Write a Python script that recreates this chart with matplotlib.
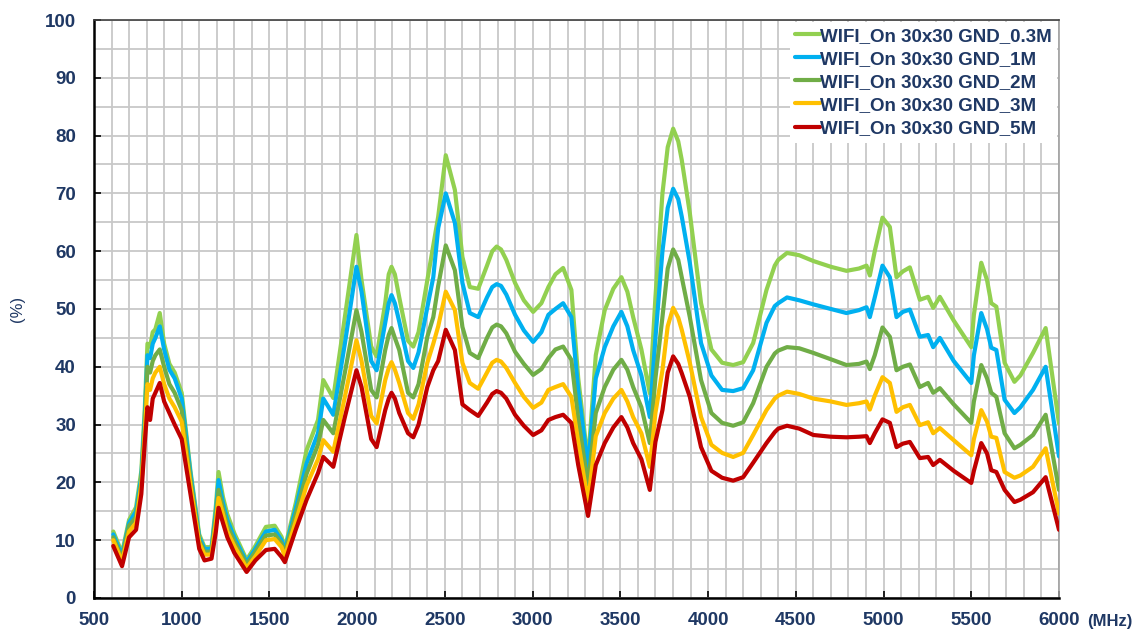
import matplotlib.pyplot as plt

# frequency points (MHz) and efficiency (%) for each ground distance
freq = [610, 660, 700, 740, 770, 790, 805, 820, 835, 850, 875, 900, 930, 960,
        1000, 1050, 1100, 1130, 1170, 1195, 1210, 1235, 1260, 1300, 1370, 1420,
        1480, 1530, 1569, 1588, 1650, 1712, 1777, 1807, 1864, 1930, 1996, 2025,
        2080, 2111, 2160, 2180, 2196, 2215, 2240, 2290, 2320, 2350, 2400, 2434,
        2462, 2505, 2557, 2600, 2642, 2690, 2740, 2770, 2795, 2820, 2850, 2900,
        2950, 3003, 3050, 3090, 3130, 3174, 3221, 3260, 3316, 3360, 3411, 3460,
        3506, 3540, 3573, 3620, 3668, 3700, 3740, 3770, 3801, 3830, 3850, 3896,
        3960, 4019, 4080, 4143, 4200, 4257, 4333, 4380, 4400, 4450,
        4520, 4600, 4700, 4789, 4860, 4903, 4922, 4950, 4994, 5036, 5074, 5110,
        5150, 5207, 5254, 5283, 5321, 5400, 5500, 5515, 5557, 5590, 5614, 5643,
        5690, 5746, 5780, 5852, 5924, 6000]

gnd_03m = [11.5, 7.8, 13.5, 15.7, 22, 33, 44, 43.5, 46, 46.5, 49.3, 44, 40.5, 39,
           35.5, 22, 11, 8.8, 8.8, 16, 21.8, 17.5, 14.5, 11.2, 6.6, 9.0,
           12.3, 12.5, 10.6, 8.6, 16.4, 25.6, 30.8, 37.7, 34.6, 48.6, 62.8, 55,
           43.5, 41.8, 51, 56, 57.3, 56, 52, 44.5, 43.5, 46, 55, 61,
           66, 76.6, 70.6, 59, 53.8, 53.5, 57.5, 60, 60.8, 60.3, 58.5, 54.5,
           51.5, 49.5, 51, 53.8, 56, 57.1, 53.3, 38, 23.5, 42, 49.8, 53.5,
           55.5, 53, 48.6, 43, 35.4, 52, 70, 78, 81.2, 79, 75.8, 66.6,
           51, 43, 40.7, 40.3, 40.8, 44.1, 53.3, 57.5, 58.5, 59.7,
           59.3, 58.3, 57.3, 56.6, 57, 57.5, 55.8, 60, 65.8, 64.2, 55.5, 56.5,
           57.2, 51.6, 52.1, 50.2, 52.1, 48, 43.4, 49, 58, 55, 51, 50.4,
           40.7, 37.4, 38.5, 42.4, 46.7, 30.2]

gnd_1m = [11.0, 7.3, 13.0, 15.0, 21, 31.5, 42, 41.5, 44, 45, 47, 43, 39.5, 38,
          34.5, 21.5, 10.5, 8.5, 8.5, 15, 20.4, 16.5, 13.5, 10.5, 6.2, 8.5,
          11.5, 11.8, 10, 8.2, 15.5, 23.3, 28.5, 34.5, 31.7, 44, 57.3, 53,
          41, 39.4, 47.6, 51, 52.4, 51, 47.8, 41, 39.8, 42.5, 50.3, 55.5,
          64, 70, 64.9, 54.5, 49.3, 48.6, 52, 53.8, 54.3, 54, 52.5, 49,
          46.3, 44.3, 46, 49, 50, 51, 48.6, 36, 22.7, 38, 43.4, 47,
          49.5, 47, 42.9, 38.5, 31.3, 45, 60, 67.5, 70.8, 69, 66, 58,
          44.1, 38.5, 36, 35.8, 36.3, 39.4, 47.6, 50.5, 51, 52,
          51.5, 50.8, 50, 49.3, 49.8, 50.3, 48.6, 52, 57.5, 55.5, 48.6, 49.5,
          49.9, 45.2, 45.5, 43.4, 45, 41, 37.2, 42, 49.3, 46.5, 43.3, 42.9,
          34.3, 32, 33, 36, 40, 24.5]

gnd_2m = [10.5, 6.8, 12.5, 14.0, 20, 30, 40, 39, 41, 42, 43, 40, 37, 35.5,
          32.5, 20.5, 10, 8, 8, 14, 18.7, 15.5, 12.5, 9.8, 5.8, 8.0,
          10.8, 11, 9.4, 7.8, 14.5, 21.5, 26.5, 30.8, 28.5, 39, 49.8, 46,
          36, 34.7, 42.9, 45.5, 46.7, 45, 42.9, 35.5, 34.7, 37, 45.2, 48.6,
          54, 61, 56.7, 46.9, 42.4, 41.5, 45, 46.8, 47.3, 47, 45.8, 42.6,
          40.5, 38.6, 39.6, 41.5, 43, 43.5, 41.2, 31, 19.6, 32, 36.5, 39.5,
          41.2, 39.5, 36.5, 33, 26.8, 38, 48.6, 57, 60.3, 58.5, 55.5, 48.6,
          37.7, 32, 30.3, 29.8, 30.4, 33.7, 40.0, 42.3, 42.8, 43.4,
          43.2, 42.4, 41.3, 40.3, 40.5, 40.9, 39.6, 42, 46.8, 45.2, 39.4, 40,
          40.4, 36.5, 37.2, 35.5, 36.3, 33.5, 30.3, 34, 40.3, 38, 35.5, 34.8,
          28.5, 25.9, 26.5, 28.2, 31.7, 18.7]

gnd_3m = [10.0, 6.3, 11.5, 13.0, 19.5, 28.5, 37, 36, 38, 39, 40, 37, 34.5, 33,
          30.5, 19.5, 9.5, 7.5, 7.5, 13, 17.3, 14.5, 11.5, 9.0, 5.2, 7.2,
          10, 10.2, 8.8, 7.2, 13.2, 19.5, 24, 27.3, 25.3, 34.8, 44.6, 41,
          31.5, 30.2, 37.7, 39.8, 40.8, 39.5, 37.2, 32, 31, 33.5, 40.7, 44,
          47, 53, 49.8, 40.7, 37.2, 36.2, 39, 40.7, 41.2, 40.9, 39.8, 37.2,
          34.8, 32.9, 33.8, 36, 36.5, 37, 34.8, 27, 16.6, 28, 32, 34.5,
          36, 34, 31.3, 28.5, 22.7, 32, 39.4, 47, 50.2, 48.5, 46.4, 40.7,
          31.3, 26.5, 25.1, 24.4, 25.1, 28.2, 32.5, 34.5, 35, 35.7,
          35.3, 34.5, 34, 33.4, 33.7, 34, 32.6, 35, 38.2, 37.2, 32.2, 33,
          33.4, 29.9, 30.4, 28.5, 29.4, 27.3, 24.7, 27.5, 32.5, 30.5, 27.9, 27.7,
          21.8, 20.8, 21.2, 22.7, 25.9, 14.6]

gnd_5m = [9.0, 5.5, 10.5, 11.8, 18, 27, 33, 30.8, 34.5, 35.5, 37.2, 34, 32, 30,
          27.5, 18, 8.5, 6.5, 6.8, 11.5, 15.6, 13, 10.5, 7.8, 4.5, 6.5,
          8.3, 8.5, 7.1, 6.2, 11.8, 17, 21.6, 24.4, 22.7, 31.3, 39.4, 36.5,
          27.5, 26.1, 32.5, 34.5, 35.5, 34.5, 32, 28.5, 27.8, 30, 36.5, 39.4,
          41, 46.4, 42.9, 33.5, 32.5, 31.5, 33.8, 35.3, 35.8, 35.5, 34.5, 31.7,
          29.8, 28.2, 29, 30.8, 31.3, 31.7, 30.3, 23, 14.2, 23, 26.8, 29.5,
          31.3, 29.5, 26.8, 24, 18.7, 27, 32.5, 39, 41.8, 40.5, 38.9, 34.8,
          26.1, 22, 20.8, 20.3, 20.9, 23.4, 26.8, 28.7, 29.3, 29.8,
          29.3, 28.2, 27.9, 27.8, 27.9, 28, 26.8, 28.5, 30.9, 30.3, 26.1, 26.7,
          27, 24.2, 24.4, 23, 23.9, 22, 19.9, 22, 26.8, 25, 22.1, 21.8,
          18.7, 16.6, 17, 18.3, 20.9, 11.8]

labels = ['WIFI_On 30x30 GND_0.3M', 'WIFI_On 30x30 GND_1M', 'WIFI_On 30x30 GND_2M',
          'WIFI_On 30x30 GND_3M', 'WIFI_On 30x30 GND_5M']
colors = ['#92D050', '#00B0F0', '#70AD47', '#FFC000', '#C00000']

navy = '#1F3864'
plt.rcParams['font.family'] = ['Liberation Sans Narrow', 'Liberation Sans', 'DejaVu Sans']
plt.rcParams['font.weight'] = 'bold'

fig = plt.figure(figsize=(11.32, 6.35), dpi=100)
ax = fig.add_axes([0.083, 0.0583, 0.8525, 0.9102])

for ys, lab, col in zip([gnd_03m, gnd_1m, gnd_2m, gnd_3m, gnd_5m], labels, colors):
    ax.plot(freq, ys, color=col, lw=3.0, label=lab,
            solid_joinstyle='round', solid_capstyle='round', zorder=3)

ax.set_xlim(500, 6000)
ax.set_ylim(0, 100)
ax.set_xticks(range(500, 6001, 500))
ax.set_yticks(range(0, 101, 10))
ax.set_xticks(range(500, 6001, 100), minor=True)
ax.set_yticks(range(0, 101, 5), minor=True)
ax.grid(which='both', color='#C8C8C8', lw=1.3, zorder=0)
ax.set_axisbelow(True)

ax.tick_params(axis='both', which='major', direction='in', length=5, width=1.2,
               color='black', labelcolor=navy, labelsize=13.5)
ax.tick_params(axis='both', which='minor', length=0)
ax.tick_params(axis='x', pad=10)
ax.tick_params(axis='y', pad=13)

ax.spines['left'].set_linewidth(1.8)
ax.spines['bottom'].set_linewidth(1.8)
ax.spines['top'].set_color('#404040')
ax.spines['top'].set_linewidth(1.2)
ax.spines['right'].set_color('#A0A0A0')
ax.spines['right'].set_linewidth(1.2)

ax.set_ylabel('(%)', color=navy, fontsize=12, labelpad=14)
ax.text(1.029, -0.04, '(MHz)', transform=ax.transAxes, color=navy, fontsize=12,
        ha='left', va='center')

leg = ax.legend(loc='upper right', bbox_to_anchor=(1.0, 1.0), fontsize=13.5,
                frameon=True, fancybox=False, borderaxespad=0.1,
                handlelength=1.3, handletextpad=0.0, labelspacing=0.32,
                borderpad=0.3)
leg.get_frame().set_edgecolor('none')
leg.get_frame().set_facecolor('white')
leg.get_frame().set_alpha(1)
for t in leg.get_texts():
    t.set_color(navy)

fig.savefig('out.png', dpi=100)
